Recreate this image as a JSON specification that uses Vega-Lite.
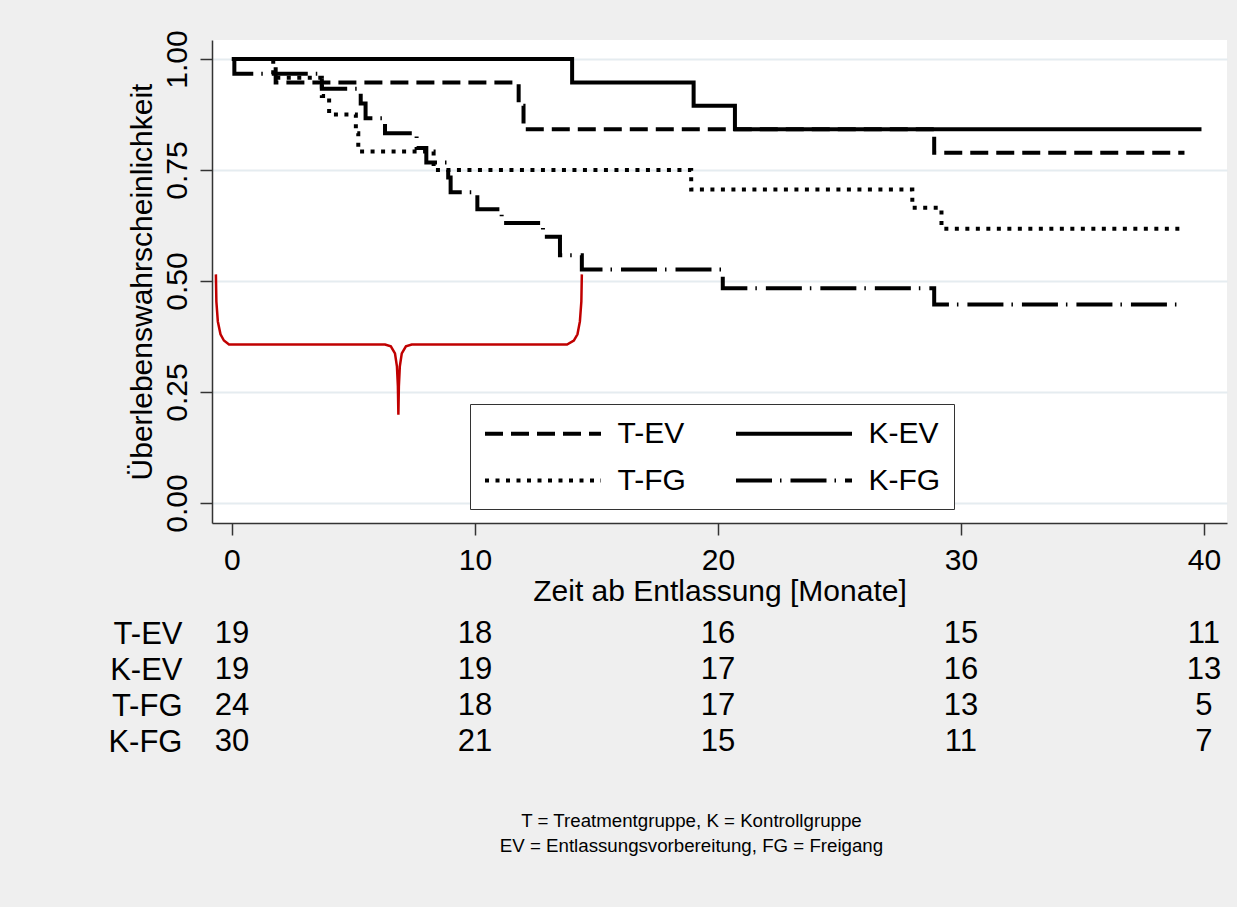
{
  "$schema": "https://vega.github.io/schema/vega-lite/v6.json",
  "background": "#efefef",
  "padding": {"left": 107, "top": 29, "right": 11, "bottom": 55},
  "config": {
    "font": "Liberation Sans",
    "view": {"stroke": null},
    "axis": {"labelColor": "black", "titleColor": "black", "titleFontWeight": "normal", "labelFont": "Liberation Sans", "titleFont": "Liberation Sans"}
  },
  "spacing": 93,
  "bounds": "flush",
  "vconcat": [
    {
      "width": 1015,
      "height": 483,
      "view": {"fill": "white", "stroke": null},
      "layer": [
        {
          "data": {"values": [
            {"g": "K-EV", "t": 0, "s": 1}, {"g": "K-EV", "t": 14.0, "s": 0.947}, {"g": "K-EV", "t": 19.0, "s": 0.895}, {"g": "K-EV", "t": 20.7, "s": 0.842}, {"g": "K-EV", "t": 39.9, "s": 0.842},
            {"g": "T-EV", "t": 0, "s": 1}, {"g": "T-EV", "t": 1.8, "s": 0.947}, {"g": "T-EV", "t": 11.8, "s": 0.895}, {"g": "T-EV", "t": 12.0, "s": 0.842}, {"g": "T-EV", "t": 28.9, "s": 0.789}, {"g": "T-EV", "t": 39.2, "s": 0.789},
            {"g": "T-FG", "t": 0, "s": 1}, {"g": "T-FG", "t": 1.7, "s": 0.958}, {"g": "T-FG", "t": 3.7, "s": 0.917}, {"g": "T-FG", "t": 4.0, "s": 0.875}, {"g": "T-FG", "t": 5.1, "s": 0.833}, {"g": "T-FG", "t": 5.2, "s": 0.792}, {"g": "T-FG", "t": 8.3, "s": 0.75}, {"g": "T-FG", "t": 18.9, "s": 0.706}, {"g": "T-FG", "t": 28.0, "s": 0.665}, {"g": "T-FG", "t": 29.2, "s": 0.618}, {"g": "T-FG", "t": 39.2, "s": 0.618},
            {"g": "K-FG", "t": 0, "s": 1}, {"g": "K-FG", "t": 0.1, "s": 0.967}, {"g": "K-FG", "t": 3.7, "s": 0.933}, {"g": "K-FG", "t": 5.3, "s": 0.9}, {"g": "K-FG", "t": 5.5, "s": 0.867}, {"g": "K-FG", "t": 6.3, "s": 0.833}, {"g": "K-FG", "t": 7.6, "s": 0.8}, {"g": "K-FG", "t": 8.0, "s": 0.767}, {"g": "K-FG", "t": 8.9, "s": 0.733}, {"g": "K-FG", "t": 9.0, "s": 0.7}, {"g": "K-FG", "t": 10.1, "s": 0.662}, {"g": "K-FG", "t": 11.1, "s": 0.631}, {"g": "K-FG", "t": 12.8, "s": 0.6}, {"g": "K-FG", "t": 13.5, "s": 0.558}, {"g": "K-FG", "t": 14.4, "s": 0.526}, {"g": "K-FG", "t": 20.2, "s": 0.484}, {"g": "K-FG", "t": 28.9, "s": 0.447}, {"g": "K-FG", "t": 39.2, "s": 0.447}
          ]},
          "mark": {"type": "line", "interpolate": "step-after", "color": "black", "strokeWidth": 4, "strokeCap": "butt"},
          "encoding": {
            "x": {"field": "t", "type": "quantitative", "scale": {"domain": [-0.82, 40.95], "nice": false, "zero": false},
              "axis": {"values": [0, 10, 20, 30, 40], "title": "Zeit ab Entlassung [Monate]", "titleFontSize": 30, "titlePadding": 1, "labelFontSize": 30, "labelPadding": 10, "tickSize": 12, "tickWidth": 1.5, "tickColor": "#333", "domainColor": "#333", "domainWidth": 1.5, "grid": false, "labelFlush": false}},
            "y": {"field": "s", "type": "quantitative", "scale": {"domain": [-0.045, 1.043], "nice": false, "zero": false},
              "axis": {"values": [0, 0.25, 0.5, 0.75, 1], "format": ".2f", "labelAngle": 270, "labelFontSize": 30, "labelPadding": 8, "tickSize": 12, "tickWidth": 1.5, "tickColor": "#333", "domainColor": "#333", "domainWidth": 1.5, "grid": true, "gridColor": "#e5ecf0", "gridWidth": 2, "title": "Überlebenswahrscheinlichkeit", "titleFontSize": 30, "titlePadding": 5, "labelFlush": false}},
            "detail": {"field": "g"},
            "strokeDash": {"field": "g", "type": "nominal",
              "scale": {"domain": ["T-EV", "K-EV", "T-FG", "K-FG"], "range": [[18, 8], [1, 0], [4, 6.5], [36, 8, 1.5, 9]]},
              "legend": {"orient": "none", "legendX": 258, "legendY": 364, "columns": 2, "direction": "horizontal", "title": null, "symbolType": "M-4,0H4", "symbolSize": 841, "symbolOffset": 43.5, "symbolStrokeWidth": 4, "symbolStrokeColor": "black", "labelFontSize": 30, "labelColor": "black", "labelOffset": 58, "columnPadding": 42, "rowPadding": 15, "padding": 13, "strokeColor": "#333", "fillColor": "white", "labelLimit": 300}}
          }
        },
        {
          "data": {"values": [
            {"i": 1, "t": -0.66, "s": 0.515}, {"i": 2, "t": -0.64, "s": 0.454}, {"i": 3, "t": -0.58, "s": 0.409}, {"i": 4, "t": -0.47, "s": 0.38}, {"i": 5, "t": -0.33, "s": 0.366}, {"i": 6, "t": -0.12, "s": 0.357},
            {"i": 7, "t": 6.3, "s": 0.357}, {"i": 8, "t": 6.54, "s": 0.353}, {"i": 9, "t": 6.71, "s": 0.337}, {"i": 10, "t": 6.79, "s": 0.308}, {"i": 11, "t": 6.83, "s": 0.263}, {"i": 12, "t": 6.85, "s": 0.199},
            {"i": 13, "t": 6.87, "s": 0.263}, {"i": 14, "t": 6.91, "s": 0.308}, {"i": 15, "t": 6.99, "s": 0.337}, {"i": 16, "t": 7.16, "s": 0.353}, {"i": 17, "t": 7.4, "s": 0.357},
            {"i": 18, "t": 13.79, "s": 0.357}, {"i": 19, "t": 14.07, "s": 0.366}, {"i": 20, "t": 14.22, "s": 0.38}, {"i": 21, "t": 14.32, "s": 0.409}, {"i": 22, "t": 14.38, "s": 0.454}, {"i": 23, "t": 14.4, "s": 0.515}
          ]},
          "mark": {"type": "line", "color": "#c00000", "strokeWidth": 2.5},
          "encoding": {
            "x": {"field": "t", "type": "quantitative"},
            "y": {"field": "s", "type": "quantitative"},
            "order": {"field": "i", "type": "quantitative"}
          }
        }
      ]
    },
    {
      "width": 1015,
      "height": 144,
      "data": {"values": [
        {"g": "T-EV", "t": 0, "n": 19}, {"g": "T-EV", "t": 10, "n": 18}, {"g": "T-EV", "t": 20, "n": 16}, {"g": "T-EV", "t": 30, "n": 15}, {"g": "T-EV", "t": 40, "n": 11},
        {"g": "K-EV", "t": 0, "n": 19}, {"g": "K-EV", "t": 10, "n": 19}, {"g": "K-EV", "t": 20, "n": 17}, {"g": "K-EV", "t": 30, "n": 16}, {"g": "K-EV", "t": 40, "n": 13},
        {"g": "T-FG", "t": 0, "n": 24}, {"g": "T-FG", "t": 10, "n": 18}, {"g": "T-FG", "t": 20, "n": 17}, {"g": "T-FG", "t": 30, "n": 13}, {"g": "T-FG", "t": 40, "n": 5},
        {"g": "K-FG", "t": 0, "n": 30}, {"g": "K-FG", "t": 10, "n": 21}, {"g": "K-FG", "t": 20, "n": 15}, {"g": "K-FG", "t": 30, "n": 11}, {"g": "K-FG", "t": 40, "n": 7}
      ]},
      "title": {"text": ["T = Treatmentgruppe, K = Kontrollgruppe", "EV = Entlassungsvorbereitung, FG = Freigang"], "orient": "bottom", "anchor": "middle", "fontSize": 18.7, "fontWeight": "normal", "lineHeight": 25, "offset": 52, "dx": -28, "color": "black", "font": "Liberation Sans"},
      "mark": {"type": "text", "fontSize": 31, "color": "black", "align": "center", "baseline": "middle"},
      "encoding": {
        "x": {"field": "t", "type": "quantitative", "scale": {"domain": [-0.82, 40.95], "nice": false, "zero": false}, "axis": null},
        "y": {"field": "g", "type": "nominal", "scale": {"domain": ["T-EV", "K-EV", "T-FG", "K-FG"]},
          "axis": {"title": null, "domain": false, "ticks": false, "labelFontSize": 31, "labelPadding": 30, "labelColor": "black"}},
        "text": {"field": "n", "type": "quantitative"}
      }
    }
  ]
}
